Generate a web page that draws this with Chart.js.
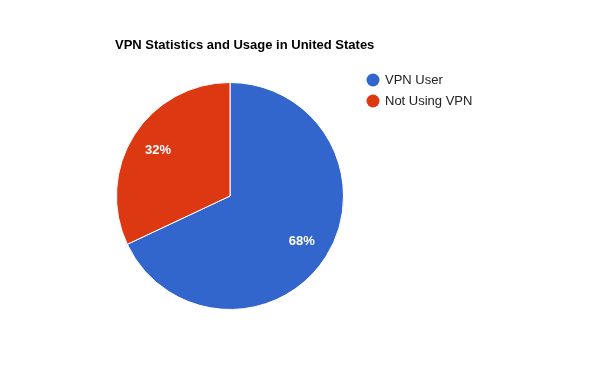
<!DOCTYPE html>
<html>
<head>
<meta charset="utf-8">
<script src="https://cdn.jsdelivr.net/npm/chart.js@4"></script>
<style>
  body { margin: 0; background: #fff; }
</style>
</head>
<body>
<canvas id="myChart" width="600" height="390"></canvas>
<script>
var chartTitle = 'VPN Statistics and Usage in United States';
var labels = ['VPN User', 'Not Using VPN'];
var values = [68, 32];
var colors = ['#3366cc', '#dc3912'];

// title, legend and slice labels drawn Google-charts style
var extras = {
  id: 'extras',
  afterDraw: function (chart) {
    var c = chart.ctx;
    c.save();
    c.fillStyle = '#000';
    c.font = 'bold 13px "Liberation Sans", Arial, sans-serif';
    c.textBaseline = 'middle';
    c.textAlign = 'left';
    c.fillText(chartTitle, 115, 45);

    c.font = '13px "Liberation Sans", Arial, sans-serif';
    labels.forEach(function (l, i) {
      var y = 80 + i * 21;
      c.fillStyle = colors[i];
      c.beginPath();
      c.arc(373, y, 6.5, 0, Math.PI * 2);
      c.fill();
      c.fillStyle = '#222';
      c.fillText(l, 385, y);
    });

    var meta = chart.getDatasetMeta(0);
    var total = values.reduce(function (a, b) { return a + b; }, 0);
    c.fillStyle = '#fff';
    c.font = 'bold 13px "Liberation Sans", Arial, sans-serif';
    c.textAlign = 'center';
    meta.data.forEach(function (arc, i) {
      var p = arc.getProps(['x', 'y', 'startAngle', 'endAngle', 'outerRadius']);
      var mid = (p.startAngle + p.endAngle) / 2;
      var r = p.outerRadius * 0.75;
      var pct = Math.round(values[i] / total * 100) + '%';
      c.fillText(pct, p.x + Math.cos(mid) * r, p.y + Math.sin(mid) * r);
    });
    c.restore();
  }
};

var ctx = document.getElementById('myChart').getContext('2d');
var myChart = new Chart(ctx, {
  type: 'pie',
  data: {
    labels: labels,
    datasets: [{
      data: values,
      backgroundColor: colors,
      borderColor: '#ffffff',
      borderWidth: 1
    }]
  },
  options: {
    responsive: false,
    animation: false,
    layout: { padding: { left: 116, right: 256, top: 82, bottom: 80 } },
    plugins: {
      legend: { display: false },
      title: { display: false },
      tooltip: { enabled: false }
    }
  },
  plugins: [extras]
});
</script>
</body>
</html>
